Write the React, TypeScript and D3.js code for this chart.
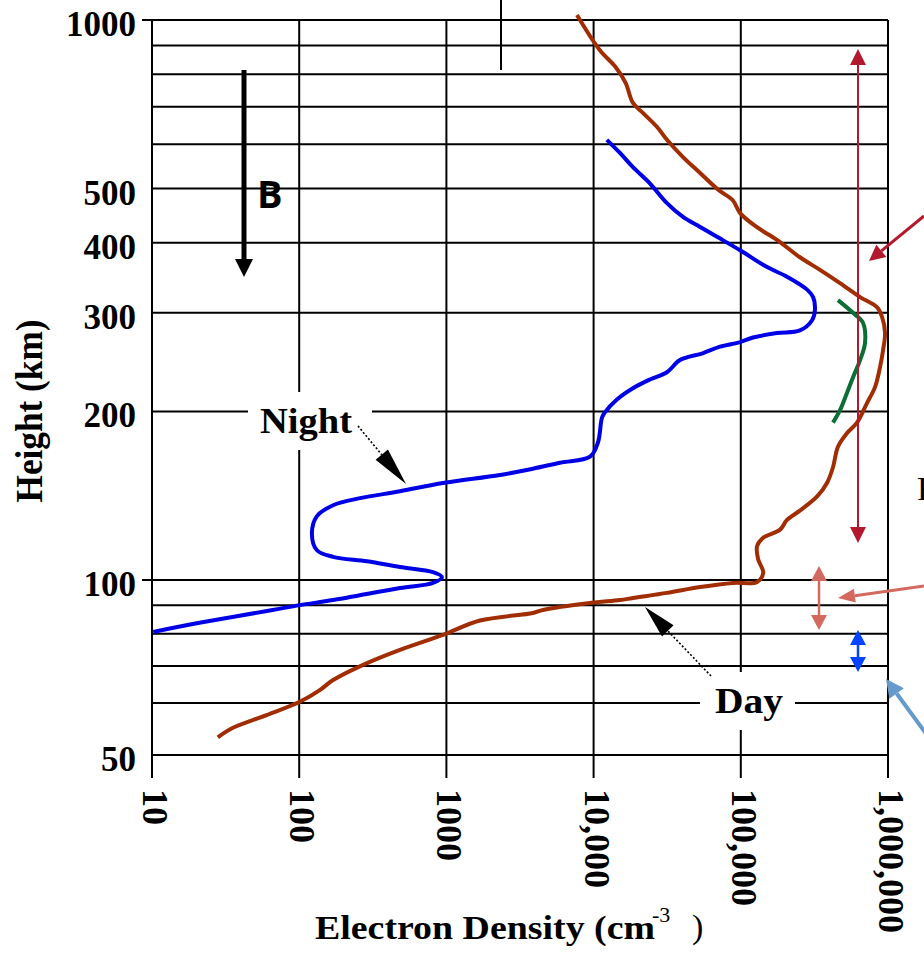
import React from "react";
import * as d3 from "d3";

const W = 924;
const H = 959;

// Axis ticks / grid
const densityTicks = [10, 100, 1000, 10000, 100000, 1000000];
const densityTickLabels = ["10", "100", "1000", "10,000", "100,000", "1,000,000"];
const heightGrid = [1000, 900, 800, 700, 600, 500, 400, 300, 200, 100, 90, 80, 70, 60, 50];
const heightTicks = [1000, 500, 400, 300, 200, 100, 50];
const heightLongTicks = [1000, 100];

// Night profile (electron density cm^-3, height km)
const nightDensity = [12300, 15100, 18500, 24100, 31500, 40500, 52900, 68900, 98900, 151000, 206000, 282000, 310000, 319000, 305000, 252000, 176000, 121000, 98900, 72300, 55000, 38600, 31500, 24100, 18500, 14400, 11900, 11400, 10700, 9460, 5910, 3870, 2310, 948, 484, 259, 170, 132, 122, 132, 170, 289, 484, 811, 933, 811, 484, 170, 101, 66, 21, 10.2];
const nightHeight = [611, 579, 546, 511, 471, 445, 427, 410, 388, 362, 348, 330, 320, 304, 291, 279, 276, 271, 266, 261, 254, 247, 235, 228, 220, 210, 199, 195, 176, 166, 162, 158, 154, 149, 144, 140, 136, 130, 121, 113, 110, 108, 105.5, 103.3, 101.2, 98.8, 96.7, 92, 90.1, 88.3, 83.7, 80.6];

// Day profile
const dayDensity = [7710, 11000, 14100, 16500, 18500, 21700, 27000, 31500, 40500, 52900, 70600, 87900, 98900, 128000, 176000, 252000, 345000, 472000, 646000, 841000, 911000, 955000, 925000, 883000, 816000, 720000, 616000, 527000, 457000, 423000, 385000, 330000, 252000, 206000, 185000, 142000, 129000, 131000, 142000, 129000, 88500, 52900, 31500, 18500, 15100, 9460, 4530, 3870, 1690, 948, 484, 289, 170, 138, 101, 60, 35.5, 28];
const dayHeight = [1021, 884, 824, 772, 711, 682, 644, 611, 569, 533, 497, 477, 452, 427, 405, 377, 358, 339, 320, 307, 295, 276, 257, 240, 221, 207, 191, 183, 173, 159, 149, 141, 133, 128, 123, 119, 115, 109, 103, 99.2, 98.8, 97.1, 94.8, 92.8, 92.0, 90.9, 88.3, 87.2, 84.5, 79.6, 74.8, 70.8, 66.0, 63.3, 60.3, 57.5, 55.0, 53.2];

// Green segment near the F peak
const greenDensity = [457000, 578000, 676000, 698000, 646000, 578000, 527000, 472000, 423000];
const greenHeight = [316, 300, 288, 265, 247, 230, 216, 201, 191];

const SERIF = "'Liberation Serif', 'Times New Roman', serif";

function head(x1: number, y1: number, x2: number, y2: number, len: number, hw: number) {
  const dx = x2 - x1, dy = y2 - y1;
  const L = Math.hypot(dx, dy);
  const ux = dx / L, uy = dy / L;
  const bx = x2 - ux * len, by = y2 - uy * len;
  const px = -uy * hw, py = ux * hw;
  return { points: `${x2},${y2} ${bx + px},${by + py} ${bx - px},${by - py}`, bx, by };
}

function Pointer({ x1, y1, x2, y2, color, w, len, hw, dash }: any) {
  const h = head(x1, y1, x2, y2, len, hw);
  return (
    <g>
      <line x1={x1} y1={y1} x2={h.bx} y2={h.by} stroke={color} strokeWidth={w} strokeDasharray={dash} />
      <polygon points={h.points} fill={color} />
    </g>
  );
}

function DoubleArrow({ x, y1, y2, color, w, len, hw }: any) {
  const a = head(x, y2, x, y1, len, hw);
  const b = head(x, y1, x, y2, len, hw);
  return (
    <g>
      <line x1={x} y1={a.by} x2={x} y2={b.by} stroke={color} strokeWidth={w} />
      <polygon points={a.points} fill={color} />
      <polygon points={b.points} fill={color} />
    </g>
  );
}

export default function App() {
  const x = d3.scaleLog().domain([10, 1e6]).range([152, 888]);
  const y = d3.scaleLog().domain([50, 60, 100, 1000]).range([755, 703, 580, 20]);
  const line = d3
    .line<[number, number]>()
    .x((d) => x(d[0]))
    .y((d) => y(d[1]))
    .curve(d3.curveCatmullRom.alpha(0.5));

  const night = nightDensity.map((v, i) => [v, nightHeight[i]] as [number, number]);
  const day = dayDensity.map((v, i) => [v, dayHeight[i]] as [number, number]);
  const green = greenDensity.map((v, i) => [v, greenHeight[i]] as [number, number]);

  const x0 = x(10), x1 = x(1e6);
  const yTop = y(1000), yBot = y(50);

  return (
    <svg
      width={W}
      height={H}
      viewBox={`0 0 ${W} ${H}`}
      style={{ position: "absolute", left: 0, top: 0, background: "#fff" }}
    >
      <rect x={0} y={0} width={W} height={H} fill="#fff" />
      {/* grid */}
      <g stroke="#000" strokeWidth={2}>
        {heightGrid.map((h) => (
          <line key={"h" + h} x1={heightLongTicks.includes(h) ? x0 - 10 : x0} x2={x1} y1={y(h)} y2={y(h)} />
        ))}
        {densityTicks.map((d) => (
          <line key={"v" + d} x1={x(d)} x2={x(d)} y1={yTop} y2={yBot + 23} />
        ))}
      </g>
      {/* stray top line */}
      <line x1={501} x2={501} y1={0} y2={70} stroke="#000" strokeWidth={2} />

      {/* label backgrounds */}
      <rect x={248} y={392} width={124} height={58} fill="#fff" />
      <rect x={700} y={672} width={95} height={58} fill="#fff" />

      {/* curves */}
      <path d={line(day) || ""} fill="none" stroke="#a12d02" strokeWidth={4} strokeLinejoin="round" />
      <path d={line(night) || ""} fill="none" stroke="#0000e6" strokeWidth={4} strokeLinejoin="round" />
      <path d={line(green) || ""} fill="none" stroke="#0b6e35" strokeWidth={4} strokeLinejoin="round" />

      {/* y tick labels */}
      <g fontFamily={SERIF} fontWeight="bold" fontSize={35} textAnchor="end" fill="#000">
        {heightTicks.map((h) => (
          <text key={"yl" + h} x={136} y={y(h) + 16}>
            {h}
          </text>
        ))}
      </g>
      {/* x tick labels */}
      <g fontFamily={SERIF} fontWeight="bold" fontSize={36} fill="#000">
        {densityTicks.map((d, i) => (
          <text key={"xl" + d} transform={`translate(${x(d)},789) rotate(90)`} x={0} y={9}>
            {densityTickLabels[i]}
          </text>
        ))}
      </g>

      {/* axis titles */}
      <text
        transform="translate(42,411) rotate(-90)"
        textAnchor="middle"
        fontFamily={SERIF}
        fontWeight="bold"
        fontSize={38}
        textLength={183}
        lengthAdjust="spacingAndGlyphs"
      >
        Height (km)
      </text>
      <text x={315} y={939} fontFamily={SERIF} fontWeight="bold" fontSize={34} textLength={340} lengthAdjust="spacingAndGlyphs">
        Electron Density (cm
      </text>
      <text x={652} y={922} fontFamily={SERIF} fontSize={22}>
        -3
      </text>
      <text x={692} y={938} fontFamily={SERIF} fontSize={34}>
        )
      </text>

      {/* series labels */}
      <text x={260} y={433} fontFamily={SERIF} fontWeight="bold" fontSize={35} textLength={92} lengthAdjust="spacingAndGlyphs">
        Night
      </text>
      <text x={715} y={713} fontFamily={SERIF} fontWeight="bold" fontSize={35} textLength={68} lengthAdjust="spacingAndGlyphs">
        Day
      </text>
      <Pointer x1={358} y1={426} x2={406} y2={484} color="#000" w={1.6} len={38} hw={8} dash="2,2" />
      <Pointer x1={711} y1={676} x2={645} y2={607} color="#000" w={1.6} len={33} hw={8} dash="2,2" />

      {/* B arrow */}
      <Pointer x1={244} y1={70} x2={244} y2={277} color="#000" w={5} len={18} hw={9} />
      <text x={257} y={208} fontFamily="'Open Sans', sans-serif" fontWeight="bold" fontSize={38}>
        B
      </text>

      {/* region markers */}
      <DoubleArrow x={858} y1={49} y2={543} color="#b4182e" w={2} len={16} hw={8} />
      <Pointer x1={924} y1={216} x2={869} y2={261} color="#b4182e" w={3} len={16} hw={8} />
      <DoubleArrow x={819} y1={566} y2={630} color="#d4695f" w={2.5} len={15} hw={8} />
      <Pointer x1={924} y1={586} x2={838} y2={598} color="#d4695f" w={3} len={17} hw={7} />
      <DoubleArrow x={858} y1={630} y2={672} color="#0044ff" w={2.5} len={15} hw={8} />
      <Pointer x1={930} y1={739} x2={886} y2={679} color="#6699cc" w={4} len={18} hw={9} />
      <text x={917} y={500} fontFamily={SERIF} fontSize={34}>
        F
      </text>
    </svg>
  );
}
